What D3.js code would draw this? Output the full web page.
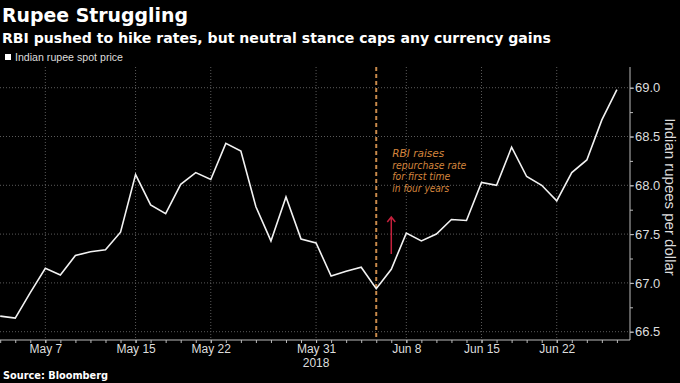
<!DOCTYPE html>
<html>
<head>
<meta charset="utf-8">
<script src="https://cdn.jsdelivr.net/npm/d3@7"></script>
<style>
  html, body { margin: 0; padding: 0; background: #000; }
  svg { display: block; }
</style>
</head>
<body>
<svg id="chart" width="680" height="383"></svg>
<script>
// ---- Data ----
const dates = ["May 2","May 3","May 4","May 7","May 8","May 9","May 10","May 11","May 14","May 15",
  "May 16","May 17","May 18","May 21","May 22","May 23","May 24","May 25","May 28","May 29",
  "May 30","May 31","Jun 1","Jun 4","Jun 5","Jun 6","Jun 7","Jun 8","Jun 11","Jun 12",
  "Jun 13","Jun 14","Jun 15","Jun 18","Jun 19","Jun 20","Jun 21","Jun 22","Jun 25","Jun 26",
  "Jun 27","Jun 28"];
const rupee = [66.66,66.64,66.90,67.15,67.08,67.28,67.32,67.34,67.52,68.11,
  67.80,67.71,68.01,68.13,68.06,68.43,68.35,67.78,67.43,67.88,
  67.45,67.41,67.07,67.12,67.16,66.94,67.14,67.51,67.43,67.50,
  67.65,67.64,68.03,68.00,68.39,68.09,68.00,67.84,68.13,68.26,
  68.67,68.98];
const xTickLabels = ["May 7","May 15","May 22","May 31","Jun 8","Jun 15","Jun 22"];
const yTicks = [66.5, 67.0, 67.5, 68.0, 68.5, 69.0];
const yMinorTicks = [66.5,66.75,67.0,67.25,67.5,67.75,68.0,68.25,68.5,68.75,69.0];
const eventDate = "Jun 6";
const annotationLines = ["RBI raises","repurchase rate","for first time","in four years"];

// ---- Layout ----
const svg = d3.select("#chart");
const W = 680, H = 383;
const plot = { left: 0, right: 630, top: 67, bottom: 340 };

svg.append("rect").attr("width", W).attr("height", H).attr("fill", "#000");

const x = d3.scaleLinear().domain([0, dates.length - 1]).range([0.2, 616.9]);
const y = d3.scaleLinear().domain([66.5, 69]).range([331.7, 87.7]);
const idx = d => dates.indexOf(d);

// Titles
svg.append("text").attr("x", 2).attr("y", 22)
  .attr("font-family", "'DejaVu Sans', sans-serif").attr("font-weight", "bold")
  .attr("font-size", 20).attr("fill", "#fff")
  .attr("textLength", 186).attr("lengthAdjust", "spacingAndGlyphs")
  .text("Rupee Struggling");
svg.append("text").attr("x", 2).attr("y", 43)
  .attr("font-family", "'DejaVu Sans', sans-serif").attr("font-weight", "bold")
  .attr("font-size", 14.5).attr("fill", "#fff")
  .attr("textLength", 549).attr("lengthAdjust", "spacingAndGlyphs")
  .text("RBI pushed to hike rates, but neutral stance caps any currency gains");

// Legend
svg.append("rect").attr("x", 5).attr("y", 54).attr("width", 6).attr("height", 6).attr("fill", "#fff");
svg.append("text").attr("x", 15).attr("y", 61)
  .attr("font-family", "'Liberation Sans Narrow', 'Liberation Sans', sans-serif")
  .attr("font-size", 11.5).attr("fill", "#ddd")
  .attr("textLength", 108).attr("lengthAdjust", "spacingAndGlyphs")
  .text("Indian rupee spot price");

// Grid
const grid = svg.append("g");
grid.selectAll("line.h").data(yTicks).join("line")
  .attr("x1", plot.left).attr("x2", plot.right)
  .attr("y1", d => y(d)).attr("y2", d => y(d))
  .attr("stroke", "#5a5a5a").attr("stroke-width", 1).attr("stroke-dasharray", "1,2");
grid.selectAll("line.v").data(xTickLabels).join("line")
  .attr("x1", d => x(idx(d))).attr("x2", d => x(idx(d)))
  .attr("y1", plot.top).attr("y2", plot.bottom)
  .attr("stroke", "#5a5a5a").attr("stroke-width", 1).attr("stroke-dasharray", "1,2");

// Event dashed line
const ex = x(idx(eventDate));
svg.append("line").attr("x1", ex).attr("x2", ex).attr("y1", plot.top).attr("y2", plot.bottom)
  .attr("stroke", "#c98a4b").attr("stroke-width", 2).attr("stroke-dasharray", "4,3");

// X axis
const xAxisG = svg.append("g").attr("transform", `translate(0,${plot.bottom})`);
xAxisG.append("line").attr("x1", plot.left).attr("x2", plot.right).attr("y1", 0).attr("y2", 0)
  .attr("stroke", "#bbb").attr("stroke-width", 1);
const minorX = xAxisG.append("g").call(
  d3.axisBottom(x).tickValues(d3.range(dates.length)).tickSize(3).tickFormat(""));
minorX.select(".domain").remove();
minorX.selectAll("line").attr("stroke", "#bbb");
const majorX = xAxisG.append("g").call(
  d3.axisBottom(x).tickValues(xTickLabels.map(idx)).tickSize(3).tickPadding(1)
    .tickFormat(i => dates[i]));
majorX.select(".domain").remove();
majorX.selectAll("line").attr("stroke", "#bbb");
majorX.selectAll("text").attr("font-family", "'Liberation Sans', sans-serif")
  .attr("font-size", 12).attr("fill", "#ddd");
svg.append("text").attr("x", x(idx("May 31"))).attr("y", 367).attr("text-anchor", "middle")
  .attr("font-family", "'Liberation Sans', sans-serif").attr("font-size", 12).attr("fill", "#ddd")
  .text("2018");

// Y axis
const yAxisG = svg.append("g").attr("transform", `translate(${plot.right},0)`);
yAxisG.append("line").attr("x1", 0).attr("x2", 0).attr("y1", plot.top).attr("y2", plot.bottom)
  .attr("stroke", "#bbb").attr("stroke-width", 1);
const minorY = yAxisG.append("g").call(d3.axisRight(y).tickValues(yMinorTicks).tickSize(3).tickFormat(""));
minorY.select(".domain").remove();
minorY.selectAll("line").attr("stroke", "#bbb");
const majorY = yAxisG.append("g").call(d3.axisRight(y).tickValues(yTicks).tickSize(4).tickPadding(1)
  .tickFormat(d3.format(".1f")));
majorY.select(".domain").remove();
majorY.selectAll("line").attr("stroke", "#bbb");
majorY.selectAll("text").attr("font-family", "'Liberation Sans', sans-serif")
  .attr("font-size", 13).attr("fill", "#ddd");

svg.append("text").attr("transform", "translate(665,197) rotate(90)")
  .attr("text-anchor", "middle")
  .attr("font-family", "'Liberation Sans', sans-serif").attr("font-size", 15).attr("fill", "#ddd")
  .text("Indian rupees per dollar");

// Data line
const line = d3.line().x((d, i) => x(i)).y(d => y(d));
svg.append("path").datum(rupee).attr("d", line)
  .attr("fill", "none").attr("stroke", "#f2f2f2").attr("stroke-width", 1.6)
  .attr("stroke-linejoin", "miter");

// Annotation
const ax = x(idx("Jun 7"));
const annWidths = [52, 74, 58, 57];
svg.append("g").selectAll("text").data(annotationLines).join("text")
  .attr("x", ax + 1).attr("y", (d, i) => 157 + i * 11.5)
  .attr("font-family", "'DejaVu Sans', sans-serif")
  .attr("font-style", "italic").attr("font-size", 11).attr("fill", "#d4853d")
  .attr("textLength", (d, i) => annWidths[i]).attr("lengthAdjust", "spacingAndGlyphs")
  .text(d => d);
const aTop = y(67.675), aBot = y(67.296);
svg.append("path")
  .attr("d", `M${ax},${aBot}L${ax},${aTop}M${ax - 4},${aTop + 5}L${ax},${aTop}L${ax + 4},${aTop + 5}`)
  .attr("fill", "none").attr("stroke", "#c4203c").attr("stroke-width", 1.5);

// Source
svg.append("text").attr("x", 3).attr("y", 379)
  .attr("font-family", "'DejaVu Sans', sans-serif").attr("font-weight", "bold")
  .attr("font-size", 10.5).attr("fill", "#fff")
  .attr("textLength", 105).attr("lengthAdjust", "spacingAndGlyphs")
  .text("Source: Bloomberg");
</script>
</body>
</html>
